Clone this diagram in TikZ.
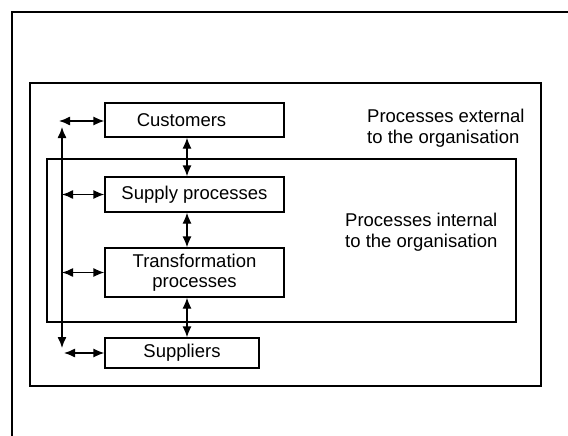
\documentclass[tikz,border=0pt]{standalone}
\usepackage{fontspec}
\setmainfont{Liberation Sans}
\usetikzlibrary{arrows.meta}
\begin{document}
\begin{tikzpicture}[x=1pt,y=-1pt,
  font=\fontsize{18.5}{20.5}\selectfont,
  procbox/.style={draw,line width=1.3pt,inner sep=0pt,align=center},
  region/.style={draw,line width=1.4pt},
  twoway/.style={{Latex[length=11pt,width=9pt]}-{Latex[length=11pt,width=9pt]},line width=1.3pt},
  caption/.style={anchor=west,inner sep=0pt,align=left}]
\useasboundingbox (0,0) rectangle (568,436);
\fill[white] (0,0) rectangle (568,436);
% page frame
\draw[line width=1.4pt] (568,12) -- (12,12) -- (12,436);
% external and internal regions
\draw[region] (30,83) rectangle (541,386);
\draw[region] (47,159) rectangle (516,322);
% process boxes
\node[procbox,minimum width=179pt,minimum height=34pt] (cust) at (194.5,120) {Customers\hspace*{26pt}};
\node[procbox,minimum width=179pt,minimum height=35pt] (supply) at (194.5,194.5) {Supply processes};
\node[procbox,minimum width=179pt,minimum height=49pt] (trans) at (194.5,272.5) {Transformation\\processes};
\node[procbox,minimum width=154pt,minimum height=30pt] (suppl) at (182,353) {Suppliers};
% region captions
\node[caption] (ext) at (367,128) {Processes external\\to the organisation};
\node[caption] (int) at (345,232) {Processes internal\\to the organisation};
% left-hand link bus
\coordinate (busT) at (62,127);
\coordinate (busB) at (62,348);
\coordinate (custL) at (59,121);
\coordinate (supplL) at (64,353);
\draw[twoway] (busT) -- (busB);
\draw[twoway] (custL) -- (custL -| cust.west);
\draw[twoway] (supply.west -| busT) -- (supply.west);
\draw[twoway] (trans.west -| busT) -- (trans.west);
\draw[twoway] (supplL) -- (supplL -| suppl.west);
% links between neighbouring boxes
\draw[twoway] ([xshift=-7.5pt]cust.south) -- ([xshift=-7.5pt]cust.south |- supply.north);
\draw[twoway] ([xshift=-7.5pt]supply.south) -- ([xshift=-7.5pt]supply.south |- trans.north);
\draw[twoway] ([xshift=-7.5pt]trans.south) -- ([xshift=-7.5pt]trans.south |- suppl.north);
\end{tikzpicture}
\end{document}
